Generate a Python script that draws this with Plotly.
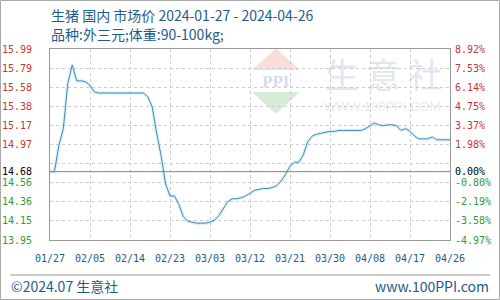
import plotly.graph_objects as go
import pandas as pd

# ---------------- data ----------------
START_DATE = "2024-01-27"
PRICES = [
    14.68, 14.68, 14.96, 15.14, 15.62, 15.82, 15.65, 15.65, 15.64, 15.60,
    15.53, 15.52, 15.52, 15.52, 15.52, 15.52, 15.52, 15.52, 15.52, 15.52,
    15.52, 15.52, 15.48, 15.37, 15.09, 14.85, 14.55, 14.42, 14.42, 14.33,
    14.20, 14.15, 14.14, 14.13, 14.13, 14.13, 14.14, 14.16, 14.21, 14.28,
    14.36, 14.39, 14.39, 14.40, 14.42, 14.45, 14.48, 14.49, 14.50, 14.50,
    14.51, 14.53, 14.58, 14.65, 14.74, 14.78, 14.78, 14.86, 15.00, 15.06,
    15.08, 15.09, 15.10, 15.11, 15.11, 15.12, 15.12, 15.12, 15.12, 15.12,
    15.12, 15.14, 15.17, 15.20, 15.18, 15.17, 15.18, 15.18, 15.17, 15.12,
    15.14, 15.11, 15.06, 15.03, 15.03, 15.03, 15.05, 15.02, 15.02, 15.02,
    15.02,
]
BASE = 14.68
X_TICK_DATES = ["2024-01-27", "2024-02-05", "2024-02-14", "2024-02-23", "2024-03-03",
                "2024-03-12", "2024-03-21", "2024-03-30", "2024-04-08", "2024-04-17",
                "2024-04-26"]
X_TICK_LABELS = ["01/27", "02/05", "02/14", "02/23", "03/03", "03/12", "03/21",
                 "03/30", "04/08", "04/17", "04/26"]
Y_MIN, Y_MAX = 13.95, 15.99
Y_TICKS = [13.95, 14.154, 14.358, 14.562, 14.68, 14.766, 14.97, 15.174, 15.378, 15.582, 15.786, 15.99]
Y_LABELS = ["13.95", "14.15", "14.36", "14.56", "14.68", "", "14.97", "15.17", "15.38", "15.58", "15.79", "15.99"]
PCT_LABELS = ["-4.97%", "-3.58%", "-2.19%", "-0.80%", "0.00%", "", "1.98%", "3.37%", "4.75%", "6.14%", "7.53%", "8.92%"]

TITLE1 = "生猪 国内 市场价 2024-01-27 - 2024-04-26"
TITLE2 = "品种:外三元;体重:90-100kg;"
FOOT_L = "©2024.07 生意社"
FOOT_R = "www.100PPI.com"

dates = pd.date_range(START_DATE, periods=len(PRICES), freq="D")

RED, GREEN, BLACK = "#cc3333", "#339933", "#000000"
BLUE_TXT = "#1f5b8a"
CJK = "Noto Sans CJK SC"
MONO = "DejaVu Sans Mono"


def col_for(v):
    if abs(v - BASE) < 1e-9:
        return BLACK
    return RED if v > BASE else GREEN


left_text = [f"<span style='color:{col_for(v)}'>{t}</span>" for v, t in zip(Y_TICKS, Y_LABELS)]
right_text = [f"<span style='color:{col_for(v)}'>{t}</span>" for v, t in zip(Y_TICKS, PCT_LABELS)]

# plot area in pixels: x 50..450, y 49..240
L, R, T, B = 50, 450, 49, 240


def px(x):
    return (x - L) / (R - L)


def py(y):
    return (B - y) / (B - T)


fig = go.Figure()
fig.add_trace(go.Scatter(x=dates, y=PRICES, mode="lines",
                         line=dict(color="rgba(170,215,240,0.35)", width=3.5),
                         hoverinfo="skip", showlegend=False))
fig.add_trace(go.Scatter(x=dates, y=PRICES, mode="lines",
                         line=dict(color="#3f8ab5", width=1), showlegend=False))
fig.add_trace(go.Scatter(x=[dates[0]], y=[PRICES[0]], yaxis="y2", mode="markers",
                         marker=dict(opacity=0), hoverinfo="skip", showlegend=False))

shapes = [
    # baseline
    dict(type="line", xref="paper", yref="y", x0=0, x1=1, y0=BASE, y1=BASE,
         line=dict(color="#888888", width=1)),
    # footer rule
    dict(type="line", xref="paper", yref="paper", x0=px(10), x1=px(490), y0=py(275), y1=py(275),
         line=dict(color="#999999", width=1)),
    # outer border
    dict(type="rect", xref="paper", yref="paper", x0=px(0.5), x1=px(499.5), y0=py(0.5), y1=py(299.5),
         line=dict(color="#aaaaaa", width=1)),
    # watermark logo
    dict(type="path", xref="paper", yref="paper", layer="below",
         path=f"M {px(276)} {py(48)} L {px(300)} {py(70)} L {px(252)} {py(70)} Z",
         fillcolor="rgba(240,160,140,0.35)", line=dict(width=0)),
    dict(type="path", xref="paper", yref="paper", layer="below",
         path=f"M {px(252)} {py(92)} L {px(300)} {py(92)} L {px(276)} {py(114)} Z",
         fillcolor="rgba(140,200,140,0.35)", line=dict(width=0)),
]

annotations = [
    dict(text=TITLE1, xref="paper", yref="paper", x=px(49), y=py(15), xanchor="left", yanchor="middle",
         showarrow=False, font=dict(family=CJK, size=14, color=BLUE_TXT)),
    dict(text=TITLE2, xref="paper", yref="paper", x=px(49), y=py(34), xanchor="left", yanchor="middle",
         showarrow=False, font=dict(family=CJK, size=14, color=BLUE_TXT)),
    dict(text=FOOT_L, xref="paper", yref="paper", x=px(9), y=py(286), xanchor="left", yanchor="middle",
         showarrow=False, font=dict(family=CJK, size=14, color=BLUE_TXT)),
    dict(text=FOOT_R, xref="paper", yref="paper", x=px(491), y=py(286), xanchor="right", yanchor="middle",
         showarrow=False, font=dict(family=CJK, size=14, color=BLUE_TXT)),
    # watermark texts
    dict(text="<b>PPI</b>", xref="paper", yref="paper", x=px(276), y=py(81), xanchor="center", yanchor="middle",
         showarrow=False, font=dict(family="Liberation Serif", size=17, color="rgba(150,175,215,0.45)")),
    dict(text="生 意 社", xref="paper", yref="paper", x=px(383), y=py(73), xanchor="center", yanchor="middle",
         showarrow=False, font=dict(family=CJK, size=34, color="rgba(190,200,215,0.45)")),
    dict(text="WWW.100PPI.COM", xref="paper", yref="paper", x=px(382), y=py(106), xanchor="center", yanchor="middle",
         showarrow=False, font=dict(family="Liberation Sans", size=13, color="rgba(200,200,200,0.4)")),
]

fig.update_layout(
    width=500, height=300,
    margin=dict(l=L, r=500 - R, t=T, b=300 - B, pad=0, autoexpand=False),
    paper_bgcolor="white", plot_bgcolor="white",
    showlegend=False,
    xaxis=dict(range=[dates[0], dates[-1]], tickvals=pd.to_datetime(X_TICK_DATES), ticktext=X_TICK_LABELS,
               showgrid=True, gridcolor="#cccccc", griddash="dot", gridwidth=1,
               showline=True, linecolor="#999999", linewidth=1, mirror=True, automargin=False,
               ticks="", ticklabelstandoff=9, zeroline=False,
               tickfont=dict(family=MONO, size=10, color=BLUE_TXT)),
    yaxis=dict(range=[Y_MIN, Y_MAX], tickvals=Y_TICKS, ticktext=left_text,
               showgrid=True, gridcolor="#cccccc", griddash="dot", gridwidth=1,
               showline=True, linecolor="#999999", linewidth=1, mirror=True, automargin=False,
               ticks="", ticklabelstandoff=15, zeroline=False,
               tickfont=dict(family=MONO, size=10, color=RED)),
    yaxis2=dict(range=[Y_MIN, Y_MAX], tickvals=Y_TICKS, ticktext=right_text, overlaying="y", side="right",
                showgrid=False, showline=False, zeroline=False, ticks="", ticklabelstandoff=4, automargin=False,
                tickfont=dict(family=MONO, size=10, color=RED)),
    shapes=shapes,
    annotations=annotations,
)

fig.write_html("out.html")
